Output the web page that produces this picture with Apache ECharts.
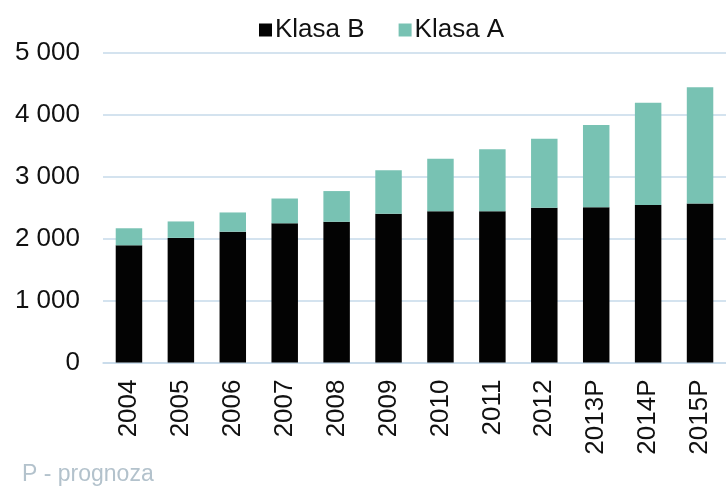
<!DOCTYPE html>
<html>
<head>
<meta charset="utf-8">
<script src="https://cdn.jsdelivr.net/npm/echarts@6/dist/echarts.min.js"></script>
<style>
  html, body { margin: 0; padding: 0; background: #fff; }
  #chart { width: 726px; height: 488px; }
</style>
</head>
<body>
<div id="chart"></div>
<script>
var years = ['2004', '2005', '2006', '2007', '2008', '2009', '2010', '2011', '2012', '2013P', '2014P', '2015P'];
var klasaB = [1890, 2010, 2110, 2245, 2270, 2400, 2440, 2440, 2495, 2505, 2540, 2565];
var klasaA = [275, 265, 310, 400, 495, 700, 845, 1000, 1115, 1325, 1650, 1875];
var yTicks = [0, 1000, 2000, 3000, 4000, 5000];

var font = "'Liberation Sans', Arial, sans-serif";
var gridColor = '#c6daea';

var chart = echarts.init(document.getElementById('chart'));
chart.setOption({
  animation: false,
  textStyle: { fontFamily: font },
  legend: {
    left: 254,
    top: 12,
    icon: 'rect',
    itemWidth: 13,
    itemHeight: 13,
    itemGap: 34,
    textStyle: { fontSize: 26, color: '#111', fontFamily: font, padding: [0, 0, 0, -2] },
    data: ['Klasa B', 'Klasa A']
  },
  grid: { left: 103, right: -7, top: 52.5, bottom: 125.5, containLabel: false },
  xAxis: {
    type: 'category',
    data: years,
    axisTick: { show: false },
    axisLine: { lineStyle: { color: gridColor, width: 1.5 } },
    axisLabel: { rotate: 90, margin: 17, fontSize: 26, color: '#111', fontFamily: font }
  },
  yAxis: {
    type: 'value',
    min: yTicks[0],
    max: yTicks[yTicks.length - 1],
    interval: 1000,
    axisLine: { show: false },
    axisTick: { show: false },
    splitLine: { lineStyle: { color: gridColor, width: 1.5 } },
    axisLabel: {
      margin: 23,
      fontSize: 26,
      color: '#111',
      fontFamily: font,
      formatter: function (v) {
        return v >= 1000 ? Math.floor(v / 1000) + ' ' + String(v % 1000).padStart(3, '0') : String(v);
      }
    }
  },
  series: [
    {
      name: 'Klasa B',
      type: 'bar',
      stack: 'total',
      barWidth: '51%',
      itemStyle: { color: '#030303' },
      data: klasaB
    },
    {
      name: 'Klasa A',
      type: 'bar',
      stack: 'total',
      barWidth: '51%',
      itemStyle: { color: '#78c2b3' },
      data: klasaA
    }
  ],
  graphic: [{
    type: 'text',
    left: 22,
    top: 463,
    style: { text: 'P - prognoza', fontSize: 23, fill: '#b3c2cc', fontFamily: font }
  }]
});
</script>
</body>
</html>
